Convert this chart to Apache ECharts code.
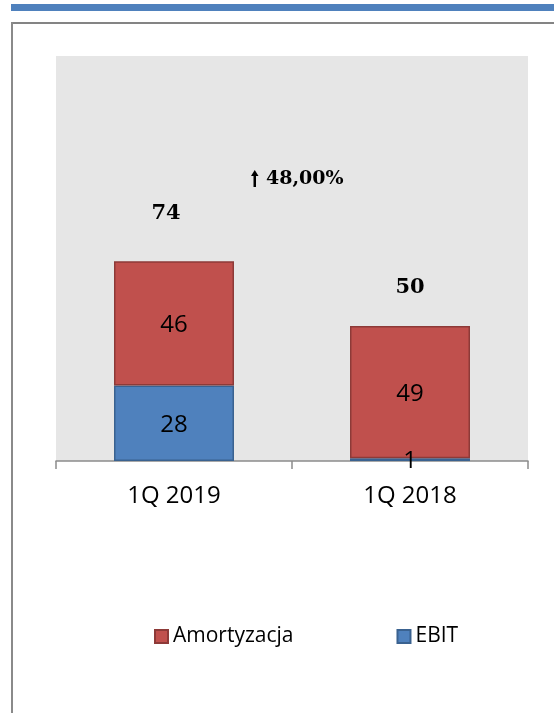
<!DOCTYPE html>
<html>
<head>
<meta charset="utf-8">
<script src="https://cdn.jsdelivr.net/npm/echarts@6/dist/echarts.min.js"></script>
<style>
  html, body { margin: 0; padding: 0; background: #ffffff; }
  #chart { width: 554px; height: 713px; }
</style>
</head>
<body>
<div id="chart"></div>
<script>
// Quarters shown on the category axis
const categories = ['1Q 2019', '1Q 2018'];
// Stacked components (mln)
const ebit = [28, 1];
const amortyzacja = [46, 49];
const seriesNames = ['Amortyzacja', 'EBIT'];

// Totals above each stack
const totals = categories.map((_, i) => ebit[i] + amortyzacja[i]);
// Year-over-year change of the total
const change = (totals[0] - totals[1]) / totals[1] * 100;
const changeText = change.toFixed(2).replace('.', ',') + '%';

// Pixel lift of each total label above its stack
const totalLabelOffsets = [[-8, -48], [0, -38]];

const RED = '#c0504d', RED_EDGE = '#8d3a38';
const BLUE = '#4f81bd', BLUE_EDGE = '#3a6290';
const SANS = '"Open Sans", "Liberation Sans", sans-serif';
const SERIF = '"DejaVu Serif", "Liberation Serif", serif';

const chart = echarts.init(document.getElementById('chart'), null, { renderer: 'canvas' });

chart.setOption({
  animation: false,
  backgroundColor: '#ffffff',
  graphic: [
    // header stripe
    { type: 'rect', shape: { x: 11, y: 4, width: 543, height: 7 }, style: { fill: '#4f81bd' }, silent: true },
    // panel frame (top and left edges)
    { type: 'rect', shape: { x: 11, y: 22, width: 543, height: 2 }, style: { fill: '#848484' }, silent: true },
    { type: 'rect', shape: { x: 11, y: 22, width: 2, height: 691 }, style: { fill: '#8a8a8a' }, silent: true },
    // change annotation: arrow + percentage
    {
      type: 'group', left: 251, top: 170, silent: true,
      children: [
        { type: 'rect', shape: { x: 2.5, y: 4, width: 2.5, height: 13 }, style: { fill: '#000000' } },
        { type: 'polygon', shape: { points: [[0, 6], [3.75, 0], [7.5, 6]] }, style: { fill: '#000000' } },
        {
          type: 'text', x: 15, y: 0,
          style: { text: changeText, font: 'bold 19px ' + SERIF, fill: '#000000', verticalAlign: 'top' }
        }
      ]
    }
  ],
  grid: {
    left: 56, right: 26, top: 56, bottom: 252,
    show: true, backgroundColor: '#e6e6e6', borderWidth: 0
  },
  legend: {
    data: seriesNames,
    left: 149, top: 621,
    itemWidth: 13, itemHeight: 13, itemGap: 103,
    icon: 'rect',
    textStyle: { fontFamily: SANS, fontSize: 21, color: '#000000' }
  },
  xAxis: {
    type: 'category',
    data: categories,
    boundaryGap: true,
    axisLine: { lineStyle: { color: '#8c8c8c', width: 1.5 } },
    axisTick: { show: true, length: 8, lineStyle: { color: '#8c8c8c', width: 1.5 } },
    axisLabel: { fontFamily: SANS, fontSize: 24, color: '#000000', margin: 23 }
  },
  yAxis: {
    type: 'value', min: 0, max: 150, show: false,
    splitLine: { show: false }
  },
  series: [
    {
      name: 'EBIT', type: 'bar', stack: 'total', barWidth: 120,
      data: ebit,
      itemStyle: { color: BLUE, borderColor: BLUE_EDGE, borderWidth: 1.5 },
      label: { show: true, position: 'inside', fontFamily: SANS, fontSize: 24, color: '#000000', offset: [0, 2] }
    },
    {
      name: 'Amortyzacja', type: 'bar', stack: 'total', barWidth: 120,
      data: amortyzacja,
      itemStyle: { color: RED, borderColor: RED_EDGE, borderWidth: 1.5 },
      label: { show: true, position: 'inside', fontFamily: SANS, fontSize: 24, color: '#000000', offset: [0, 2] }
    },
    {
      name: 'Suma', type: 'scatter', symbolSize: 0, silent: true,
      itemStyle: { opacity: 1 },
      data: totals.map((v, i) => ({
        value: v,
        label: { offset: totalLabelOffsets[i] }
      })),
      label: {
        show: true, position: 'inside',
        fontFamily: SERIF, fontWeight: 'bold', fontSize: 21, color: '#000000'
      },
      z: 5
    }
  ]
});
</script>
</body>
</html>
